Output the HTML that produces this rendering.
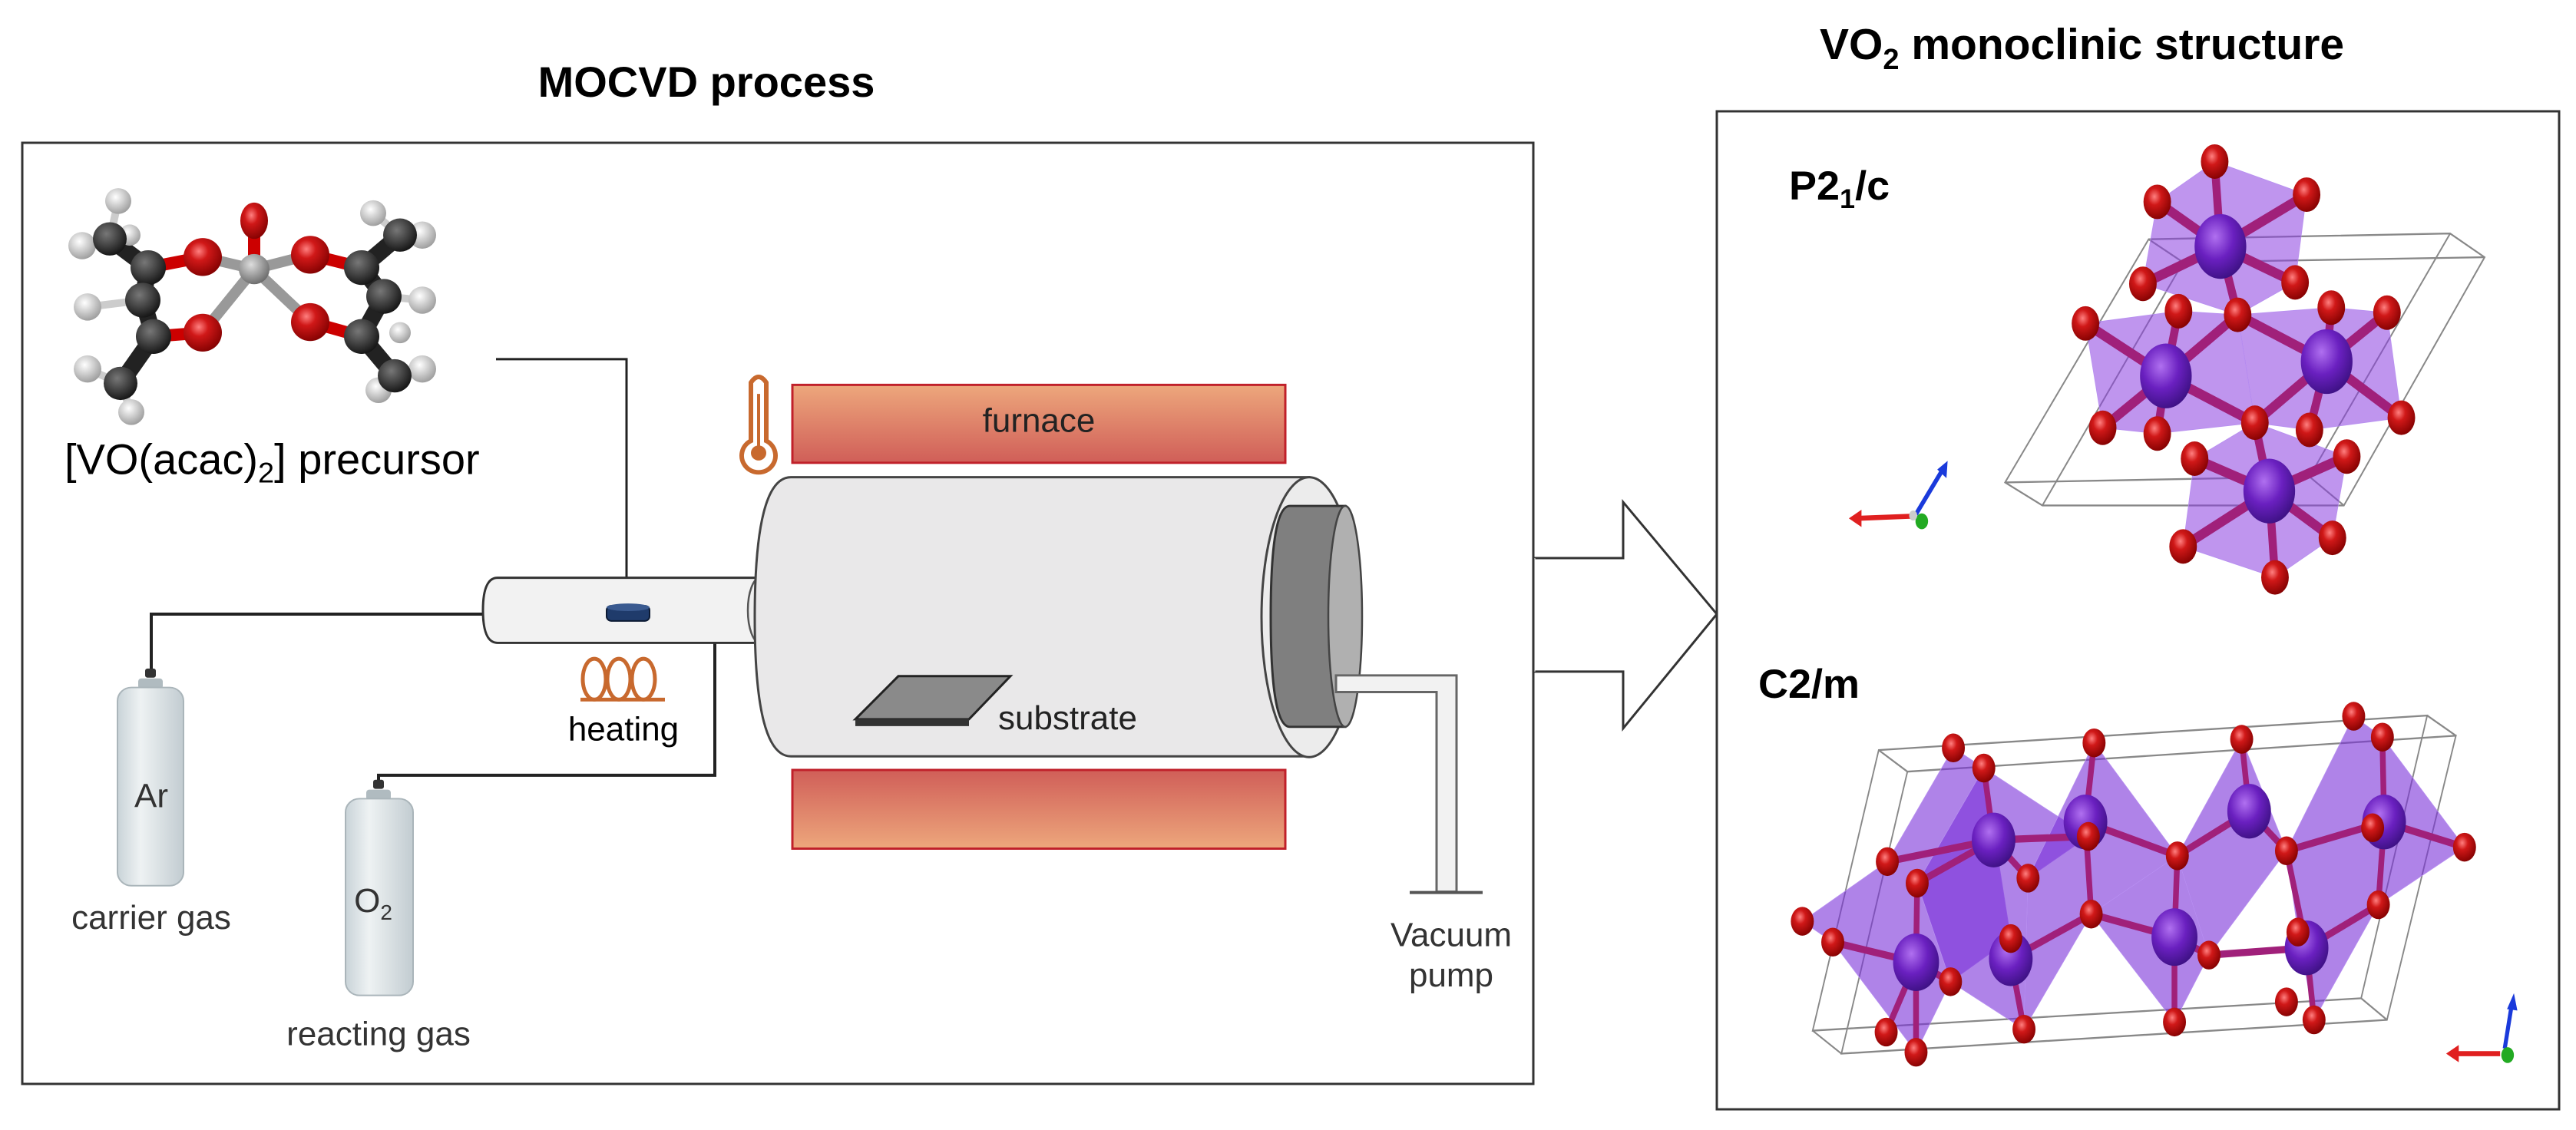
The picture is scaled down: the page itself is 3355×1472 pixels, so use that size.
<!DOCTYPE html>
<html><head><meta charset="utf-8"><style>
html,body{margin:0;padding:0;background:#fff}
svg{display:block}
text{font-family:"Liberation Sans",Arial,sans-serif}
</style></head><body>
<svg width="3355" height="1472" viewBox="0 0 3355 1472" xmlns="http://www.w3.org/2000/svg">
<defs>
<linearGradient id="fTop" x1="0" y1="0" x2="0" y2="1"><stop offset="0" stop-color="#eda77c"/><stop offset="1" stop-color="#d05e58"/></linearGradient>
<linearGradient id="fBot" x1="0" y1="0" x2="0" y2="1"><stop offset="0" stop-color="#d05e58"/><stop offset="1" stop-color="#eda77c"/></linearGradient>
<linearGradient id="cyl" x1="0" y1="0" x2="1" y2="0"><stop offset="0" stop-color="#c9d3d8"/><stop offset="0.35" stop-color="#eef2f3"/><stop offset="1" stop-color="#c2ccd1"/></linearGradient>
<radialGradient id="red" cx="0.4" cy="0.35" r="0.7"><stop offset="0" stop-color="#ff8080"/><stop offset="0.35" stop-color="#d01818"/><stop offset="1" stop-color="#800000"/></radialGradient>
<radialGradient id="vio" cx="0.4" cy="0.35" r="0.7"><stop offset="0" stop-color="#b070f0"/><stop offset="0.5" stop-color="#6a20c0"/><stop offset="1" stop-color="#3a1080"/></radialGradient>
<radialGradient id="blk" cx="0.4" cy="0.35" r="0.7"><stop offset="0" stop-color="#777"/><stop offset="1" stop-color="#111"/></radialGradient>
<radialGradient id="wht" cx="0.4" cy="0.35" r="0.7"><stop offset="0" stop-color="#fff"/><stop offset="1" stop-color="#999"/></radialGradient>
<radialGradient id="gry" cx="0.4" cy="0.35" r="0.7"><stop offset="0" stop-color="#ddd"/><stop offset="1" stop-color="#666"/></radialGradient>
</defs>

<!-- titles -->
<text x="920" y="126" font-size="56" font-weight="bold" text-anchor="middle">MOCVD process</text>
<text x="2370" y="77" font-size="57" font-weight="bold">VO<tspan font-size="38" dy="13">2</tspan><tspan dy="-13"> monoclinic structure</tspan></text>

<g transform="translate(0,0.727) scale(1,0.9855)">
<!-- left box -->
<rect x="29" y="188" width="1968" height="1244" fill="none" stroke="#333" stroke-width="3"/>

<!-- molecule -->
<g stroke-linecap="round">
<g stroke="#222" stroke-width="22">
<line x1="193" y1="353" x2="143" y2="315"/><line x1="193" y1="353" x2="186" y2="396"/><line x1="186" y1="396" x2="200" y2="444"/><line x1="200" y1="444" x2="157" y2="506"/>
<line x1="471" y1="353" x2="521" y2="310"/><line x1="471" y1="353" x2="500" y2="391"/><line x1="500" y1="391" x2="471" y2="444"/><line x1="471" y1="444" x2="514" y2="496"/>
</g>
<g stroke="#ccc" stroke-width="10">
<line x1="143" y1="315" x2="154" y2="265"/><line x1="143" y1="315" x2="107" y2="324"/><line x1="186" y1="396" x2="114" y2="405"/><line x1="157" y1="506" x2="114" y2="487"/><line x1="157" y1="506" x2="171" y2="544"/>
<line x1="521" y1="310" x2="486" y2="281"/><line x1="521" y1="310" x2="550" y2="310"/><line x1="500" y1="391" x2="550" y2="396"/><line x1="514" y1="496" x2="550" y2="487"/><line x1="514" y1="496" x2="493" y2="515"/>
</g>
<g stroke="#c00" stroke-width="16">
<line x1="193" y1="353" x2="264" y2="339"/><line x1="200" y1="444" x2="264" y2="439"/><line x1="471" y1="353" x2="404" y2="336"/><line x1="471" y1="444" x2="404" y2="425"/>
<line x1="331" y1="291" x2="331" y2="350"/>
</g>
<g stroke="#999" stroke-width="14">
<line x1="264" y1="339" x2="331" y2="355"/><line x1="404" y1="336" x2="331" y2="355"/><line x1="264" y1="439" x2="331" y2="355"/><line x1="404" y1="425" x2="331" y2="355"/>
</g>
<g fill="url(#wht)">
<circle cx="154" cy="265" r="17"/><circle cx="107" cy="324" r="18"/><circle cx="114" cy="405" r="18"/><circle cx="114" cy="487" r="18"/><circle cx="171" cy="544" r="17"/><circle cx="169" cy="310" r="14"/>
<circle cx="486" cy="281" r="17"/><circle cx="550" cy="310" r="18"/><circle cx="550" cy="396" r="18"/><circle cx="550" cy="487" r="18"/><circle cx="493" cy="515" r="17"/><circle cx="521" cy="439" r="14"/>
</g>
<g fill="url(#blk)">
<circle cx="193" cy="353" r="23"/><circle cx="186" cy="396" r="23"/><circle cx="200" cy="444" r="23"/><circle cx="143" cy="315" r="22"/><circle cx="157" cy="506" r="22"/>
<circle cx="471" cy="353" r="23"/><circle cx="500" cy="391" r="23"/><circle cx="471" cy="444" r="23"/><circle cx="521" cy="310" r="22"/><circle cx="514" cy="496" r="22"/>
</g>
<g fill="url(#red)">
<ellipse cx="331" cy="291" rx="18" ry="24"/><circle cx="264" cy="339" r="25"/><circle cx="404" cy="336" r="25"/><circle cx="264" cy="439" r="25"/><circle cx="404" cy="425" r="25"/>
</g>
<circle cx="331" cy="355" r="20" fill="url(#gry)"/>
</g>
<text x="84" y="626" font-size="56">[VO(acac)<tspan font-size="38" dy="11">2</tspan><tspan dy="-11">] precursor</tspan></text>

<!-- connector lines -->
<g fill="none" stroke="#222" stroke-width="3">
<polyline points="646,474 816,474 816,763"/>
<polyline points="197,892 197,811 629,811" stroke-width="4"/>
<polyline points="493,1035 493,1024 931,1024 931,849" stroke-width="4"/>
</g>

<!-- small tube -->
<path d="M648,763 L990,763 L990,849 L648,849 Q629,849 629,806 Q629,763 648,763 Z" fill="#f2f2f2" stroke="#333" stroke-width="3"/>
<ellipse cx="990" cy="806" rx="16" ry="43" fill="#efefef" stroke="#555" stroke-width="2.5"/>
<rect x="790" y="800" width="56" height="20" rx="6" fill="#1f3b6b" stroke="#0c1a33" stroke-width="2"/>
<ellipse cx="818" cy="802" rx="28" ry="5" fill="#3a5a90"/>

<!-- heating coil -->
<g fill="none" stroke="#c8692e" stroke-width="5">
<ellipse cx="774" cy="897" rx="15" ry="27"/>
<ellipse cx="806" cy="897" rx="15" ry="27"/>
<ellipse cx="838" cy="897" rx="15" ry="27"/>
<line x1="756" y1="924" x2="866" y2="924"/>
</g>
<text x="812" y="978" font-size="44" text-anchor="middle">heating</text>

<!-- gas cylinders -->
<rect x="189" y="883" width="14" height="12" rx="3" fill="#333"/>
<rect x="180" y="896" width="32" height="14" rx="4" fill="#b0bbc0"/>
<rect x="153" y="908" width="86" height="262" rx="18" fill="url(#cyl)" stroke="#aab5ba" stroke-width="2"/>
<text x="197" y="1066" font-size="44" text-anchor="middle" fill="#333">Ar</text>
<text x="197" y="1227" font-size="44" text-anchor="middle" fill="#333">carrier gas</text>

<rect x="486" y="1030" width="14" height="12" rx="3" fill="#333"/>
<rect x="477" y="1043" width="32" height="14" rx="4" fill="#b0bbc0"/>
<rect x="450" y="1055" width="88" height="260" rx="18" fill="url(#cyl)" stroke="#aab5ba" stroke-width="2"/>
<text x="486" y="1205" font-size="44" text-anchor="middle" fill="#333">O<tspan font-size="28" dy="10">2</tspan></text>
<text x="493" y="1381" font-size="44" text-anchor="middle" fill="#333">reacting gas</text>

<!-- thermometer -->
<g fill="none" stroke="#c8692e" stroke-width="6">
<path d="M978,582 L978,505 Q988,490 998,505 L998,582 A22,22 0 1 1 978,582 Z"/>
</g>
<line x1="988" y1="520" x2="988" y2="590" stroke="#c8692e" stroke-width="4"/>
<circle cx="988" cy="598" r="10" fill="#c8692e"/>

<!-- furnaces -->
<rect x="1032" y="508" width="642" height="103" fill="url(#fTop)" stroke="#c0202a" stroke-width="3"/>
<text x="1353" y="570" font-size="44" text-anchor="middle" fill="#222">furnace</text>
<rect x="1032" y="1017" width="642" height="104" fill="url(#fBot)" stroke="#c0202a" stroke-width="3"/>

<!-- main chamber -->
<path d="M1030,630 L1705,630 L1705,999 L1030,999 Q983,999 983,815 Q983,630 1030,630 Z" fill="#e9e8e9" stroke="#444" stroke-width="3"/>
<ellipse cx="1705" cy="815" rx="62" ry="185" fill="#ececec" stroke="#444" stroke-width="3"/>
<path d="M1680,668 L1752,668 L1752,960 L1680,960 Q1655,960 1655,814 Q1655,668 1680,668 Z" fill="#7f7f7f" stroke="#333" stroke-width="3"/>
<ellipse cx="1752" cy="814" rx="22" ry="146" fill="#b0b0b0" stroke="#444" stroke-width="2.5"/>
<!-- substrate -->
<polygon points="1114,950 1170,893 1316,893 1262,950" fill="#8a8a8a" stroke="#222" stroke-width="3"/>
<polygon points="1114,950 1262,950 1262,959 1114,959" fill="#333"/>
<text x="1300" y="963" font-size="44" fill="#222">substrate</text>

<!-- vacuum pipe -->
<path d="M1740,892 L1897,892 L1897,1178 L1871,1178 L1871,914 L1740,914 Z" fill="#f2f2f2" stroke="#666" stroke-width="3"/>
<line x1="1836" y1="1179" x2="1931" y2="1179" stroke="#555" stroke-width="4"/>
<text x="1890" y="1250" font-size="44" text-anchor="middle" fill="#333">Vacuum</text>
<text x="1890" y="1303" font-size="44" text-anchor="middle" fill="#333">pump</text>

<!-- big arrow -->
<polygon points="1997,737 2114,737 2114,663 2236,811 2114,962 2114,887 1997,887" fill="#fff" stroke="#333" stroke-width="3"/>
<line x1="1997" y1="737" x2="1997" y2="887" stroke="#fff" stroke-width="5"/>
<line x1="1997" y1="700" x2="1997" y2="900" stroke="#333" stroke-width="3"/>
</g>

<g transform="translate(0,2.4) scale(1,0.9834)">
<!-- right box -->
<rect x="2236" y="145" width="1097" height="1322" fill="#fff" stroke="#333" stroke-width="3"/>
<text x="2330" y="262" font-size="54" font-weight="bold">P2<tspan font-size="36" dy="11">1</tspan><tspan dy="-11">/c</tspan></text>
<text x="2290" y="922" font-size="54" font-weight="bold">C2/m</text>

<g transform="translate(2200,0) scale(0.748,0.953)">
<!-- crystal 1 cell -->
<g fill="none" stroke="#888" stroke-width="2.5">
<polygon points="550,668 800,330 1325,322 1385,355 1140,700 615,700"/>
<line x1="550" y1="668" x2="1080" y2="660"/><line x1="800" y1="330" x2="860" y2="362"/><line x1="860" y1="362" x2="1385" y2="355"/><line x1="860" y1="362" x2="615" y2="700"/><line x1="1325" y1="322" x2="1080" y2="660"/><line x1="1080" y1="660" x2="1140" y2="700"/>
</g>
<g fill="#8a3ee0" fill-opacity="0.55" stroke="#b890f0" stroke-width="1">
<polygon points="915,222 1075,268 1055,390 955,435 790,392 815,278"/>
<polygon points="690,447 852,430 955,435 985,585 815,600 720,592"/>
<polygon points="955,435 1118,425 1215,432 1240,578 1080,595 985,585"/>
<polygon points="880,635 985,585 1145,632 1120,745 1020,800 860,757"/>
</g>
<g stroke="#a0207a" stroke-width="14" stroke-linecap="round">
<path d="M925,340 L915,222 M925,340 L815,278 M925,340 L1075,268 M925,340 L790,392 M925,340 L1055,390 M925,340 L955,435"/>
<path d="M830,520 L690,447 M830,520 L852,430 M830,520 L955,435 M830,520 L720,592 M830,520 L815,600 M830,520 L985,585"/>
<path d="M1110,500 L955,435 M1110,500 L1118,425 M1110,500 L1215,432 M1110,500 L985,585 M1110,500 L1080,595 M1110,500 L1240,578"/>
<path d="M1010,680 L880,635 M1010,680 L1145,632 M1010,680 L860,757 M1010,680 L1120,745 M1010,680 L1020,800 M1010,680 L985,585"/>
</g>
<g fill="url(#vio)"><circle cx="925" cy="340" r="45"/><circle cx="830" cy="520" r="45"/><circle cx="1110" cy="500" r="45"/><circle cx="1010" cy="680" r="45"/></g>
<g fill="url(#red)">
<circle cx="915" cy="222" r="24"/><circle cx="815" cy="278" r="24"/><circle cx="1075" cy="268" r="24"/><circle cx="790" cy="392" r="24"/><circle cx="1055" cy="390" r="24"/><circle cx="955" cy="435" r="24"/>
<circle cx="690" cy="447" r="24"/><circle cx="852" cy="430" r="24"/><circle cx="1118" cy="425" r="24"/><circle cx="1215" cy="432" r="24"/><circle cx="720" cy="592" r="24"/><circle cx="815" cy="600" r="24"/><circle cx="985" cy="585" r="24"/><circle cx="1080" cy="595" r="24"/><circle cx="1240" cy="578" r="24"/>
<circle cx="880" cy="635" r="24"/><circle cx="1145" cy="632" r="24"/><circle cx="860" cy="757" r="24"/><circle cx="1120" cy="745" r="24"/><circle cx="1020" cy="800" r="24"/>
</g>
<!-- axes 1 -->
<line x1="385" y1="715" x2="290" y2="718" stroke="#e02020" stroke-width="7"/><polygon points="278,718 300,706 300,730" fill="#e02020"/>
<line x1="395" y1="712" x2="440" y2="652" stroke="#1a3adb" stroke-width="7"/><polygon points="450,638 432,650 448,662" fill="#1a3adb"/>
<circle cx="405" cy="722" r="11" fill="#22aa22"/><circle cx="390" cy="714" r="7" fill="#ccc"/>

<!-- crystal 2 cell -->
<g fill="none" stroke="#888" stroke-width="2.5">
<polygon points="215,1430 330,1040 1285,992 1170,1385"/>
<polygon points="265,1462 380,1070 1335,1020 1215,1415"/>
<line x1="215" y1="1430" x2="265" y2="1462"/><line x1="330" y1="1040" x2="380" y2="1070"/><line x1="1285" y1="992" x2="1335" y2="1020"/><line x1="1170" y1="1385" x2="1215" y2="1415"/>
</g>
<g fill="#7a30d8" fill-opacity="0.6" stroke="#b890f0" stroke-width="1">
<polygon points="197,1278 345,1195 460,1037 513,1065 560,1302 455,1362 395,1460 250,1307"/>
<polygon points="397,1225 513,1065 695,1160 590,1218 583,1428 455,1362"/>
<polygon points="590,1218 705,1030 850,1187 700,1268 583,1428"/>
<polygon points="700,1268 850,1187 905,1325 845,1418"/>
<polygon points="850,1187 962,1025 1040,1180 905,1325"/>
<polygon points="1040,1180 1157,993 1207,1022 1350,1175 1200,1255 1088,1415 1060,1293"/>
</g>
<g stroke="#a0207a" stroke-width="10" stroke-linecap="round">
<path d="M395,1335 L250,1307 M395,1335 L455,1362 M395,1335 L395,1460 M395,1335 L397,1225 M395,1335 L343,1432"/>
<path d="M530,1165 L513,1065 M530,1165 L397,1225 M530,1165 L695,1160 M530,1165 L590,1218 M530,1165 L345,1195"/>
<path d="M690,1140 L705,1030 M690,1140 L695,1160 M690,1140 L850,1187 M690,1140 L700,1268"/>
<path d="M560,1330 L560,1302 M560,1330 L583,1428 M560,1330 L700,1268"/>
<path d="M845,1300 L850,1187 M845,1300 L845,1418 M845,1300 L905,1325 M845,1300 L700,1268"/>
<path d="M975,1125 L962,1025 M975,1125 L850,1187 M975,1125 L1040,1180"/>
<path d="M1210,1140 L1207,1022 M1210,1140 L1350,1175 M1210,1140 L1040,1180 M1210,1140 L1200,1255"/>
<path d="M1075,1315 L1060,1293 M1075,1315 L1088,1415 M1075,1315 L905,1325 M1075,1315 L1200,1255 M1075,1315 L1040,1180"/>
</g>
<g fill="url(#vio)">
<circle cx="530" cy="1165" r="38"/><circle cx="690" cy="1140" r="38"/><circle cx="975" cy="1125" r="38"/><circle cx="1210" cy="1140" r="38"/>
<circle cx="395" cy="1335" r="40"/><circle cx="560" cy="1330" r="38"/><circle cx="845" cy="1300" r="40"/><circle cx="1075" cy="1315" r="38"/>
</g>
<g fill="url(#red)">
<circle cx="460" cy="1037" r="20"/><circle cx="513" cy="1065" r="20"/><circle cx="705" cy="1030" r="20"/><circle cx="962" cy="1025" r="20"/><circle cx="1157" cy="993" r="20"/><circle cx="1207" cy="1022" r="20"/>
<circle cx="345" cy="1195" r="20"/><circle cx="397" cy="1225" r="20"/><circle cx="590" cy="1218" r="20"/><circle cx="695" cy="1160" r="20"/><circle cx="850" cy="1187" r="20"/><circle cx="1040" cy="1180" r="20"/><circle cx="1190" cy="1148" r="20"/><circle cx="1350" cy="1175" r="20"/>
<circle cx="197" cy="1278" r="20"/><circle cx="250" cy="1307" r="20"/><circle cx="560" cy="1302" r="20"/><circle cx="700" cy="1268" r="20"/><circle cx="905" cy="1325" r="20"/><circle cx="1060" cy="1293" r="20"/><circle cx="1200" cy="1255" r="20"/>
<circle cx="455" cy="1362" r="20"/><circle cx="343" cy="1432" r="20"/><circle cx="583" cy="1428" r="20"/><circle cx="845" cy="1418" r="20"/><circle cx="1088" cy="1415" r="20"/><circle cx="395" cy="1460" r="20"/><circle cx="1040" cy="1390" r="20"/>
</g>
<!-- axes 2 -->
<line x1="1412" y1="1462" x2="1330" y2="1462" stroke="#e02020" stroke-width="7"/><polygon points="1318,1462 1340,1450 1340,1474" fill="#e02020"/>
<line x1="1420" y1="1455" x2="1432" y2="1395" stroke="#1a3adb" stroke-width="7"/><polygon points="1436,1378 1424,1400 1442,1402" fill="#1a3adb"/>
<circle cx="1425" cy="1464" r="11" fill="#22aa22"/>
</g>
</g>
</svg>
</body></html>
